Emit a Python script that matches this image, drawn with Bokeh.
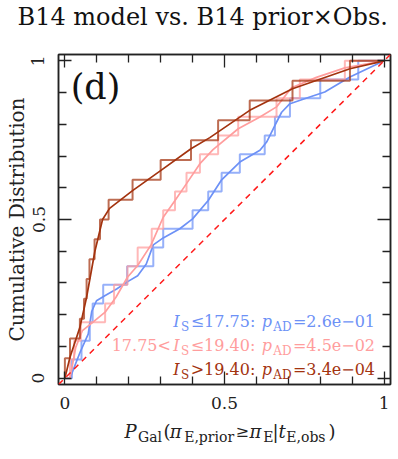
from bokeh.plotting import figure
from bokeh.layouts import column
from bokeh.models import (Range1d, FixedTicker, LinearAxis, Label, Slope,
                          NumeralTickFormatter, CustomJSTickFormatter)
from bokeh.embed import file_html
from bokeh.resources import INLINE

# ---------------- data ----------------
# sample values (positions of the ECDF jumps)
blue_vals = [0.022, 0.052, 0.078, 0.087, 0.120, 0.195, 0.277, 0.308, 0.400,
             0.449, 0.491, 0.548, 0.626, 0.658, 0.705, 0.800, 0.919]
pink_vals = [0.016, 0.029, 0.050, 0.126, 0.154, 0.196, 0.228, 0.272, 0.308,
             0.345, 0.381, 0.423, 0.480, 0.543, 0.663, 0.736, 0.877]
brown_vals = [0.000, 0.016, 0.047, 0.060, 0.068, 0.077, 0.093, 0.110, 0.137,
              0.212, 0.300, 0.395, 0.480, 0.579, 0.713, 0.893]

# smooth (model) curves
blue_sx = [0.016, 0.047, 0.073, 0.084, 0.099, 0.125, 0.162, 0.198, 0.228, 0.255,
           0.277, 0.308, 0.360, 0.400, 0.449, 0.491, 0.548, 0.611, 0.632, 0.658,
           0.679, 0.705, 0.767, 0.814, 0.893, 1.000]
blue_sy = [0.000, 0.080, 0.139, 0.210, 0.244, 0.260, 0.281, 0.305, 0.323, 0.360,
           0.420, 0.442, 0.471, 0.502, 0.560, 0.625, 0.681, 0.718, 0.744, 0.797,
           0.838, 0.865, 0.886, 0.902, 0.949, 1.000]
pink_sx = [0.016, 0.034, 0.055, 0.087, 0.126, 0.160, 0.196, 0.228, 0.270, 0.308,
           0.345, 0.381, 0.423, 0.464, 0.543, 0.611, 0.663, 0.710, 0.788, 0.877, 1.000]
pink_sy = [0.000, 0.097, 0.150, 0.176, 0.208, 0.255, 0.318, 0.355, 0.420, 0.507,
           0.560, 0.613, 0.676, 0.720, 0.786, 0.823, 0.855, 0.915, 0.948, 0.978, 1.000]
brown_sx = [0.000, 0.016, 0.047, 0.068, 0.094, 0.118, 0.140, 0.212, 0.301, 0.395,
            0.454, 0.579, 0.713, 0.893, 1.000]
brown_sy = [0.000, 0.066, 0.160, 0.255, 0.400, 0.500, 0.535, 0.591, 0.655, 0.723,
            0.758, 0.844, 0.912, 0.975, 1.000]

group_cond = ["≤17.75:", "≤19.40:", ">19.40:"]
group_pad = ["=2.6e−01", "=4.5e−02", "=3.4e−04"]

major_ticks = [0, 0.5, 1]
minor_ticks = [0.1, 0.2, 0.3, 0.4, 0.6, 0.7, 0.8, 0.9]

C_BLUE = "#6d91f6"
C_PINK = "#ff9d9d"
C_BROWN = "#a3330f"
C_INK = "#222222"
SERIF = "DejaVu Serif"
W = 398
FL = 58  # frame left (the label strip shares the main frame's left edge)


def ecdf_steps(vals):
    xs = sorted(vals)
    n = len(xs)
    sx, sy = [0.0], [0.0]
    for i, v in enumerate(xs):
        sx += [v, v]
        sy += [i / n, (i + 1) / n]
    sx.append(1.0)
    sy.append(1.0)
    return sx, sy


def put(fig, x, y, text, size, color=C_INK, style="normal", align="center"):
    fig.add_layout(Label(x=x, y=y, x_units="screen", y_units="screen", text=text,
                         text_font=SERIF, text_font_size=size, text_color=color,
                         text_font_style=style, text_align=align,
                         text_baseline="alphabetic"))


# ---------------- main panel ----------------
p = figure(width=W, height=414, x_range=Range1d(-0.02, 1.02),
           y_range=Range1d(-0.02, 1.02), output_backend="svg",
           toolbar_location=None, min_border_left=FL, min_border_right=8,
           min_border_top=54, min_border_bottom=30)
p.xgrid.visible = False
p.ygrid.visible = False
p.outline_line_color = C_INK
p.outline_line_width = 1.5
p.background_fill_color = "white"
p.border_fill_color = "white"

p.title.text = "B14 model vs. B14 prior×Obs."
p.title.text_font = SERIF
p.title.text_font_size = "24px"
p.title.text_font_style = "normal"
p.title.text_color = "#111111"
p.title.align = "left"
p.title.offset = -41
p.title.standoff = 0

ticker = FixedTicker(ticks=major_ticks, minor_ticks=minor_ticks)


def style_axis(ax, labels=True):
    ax.ticker = ticker
    ax.axis_line_color = C_INK
    ax.axis_line_width = 1.5
    ax.major_tick_in = 13
    ax.major_tick_out = 0
    ax.minor_tick_in = 8
    ax.minor_tick_out = 0
    ax.major_tick_line_color = C_INK
    ax.minor_tick_line_color = C_INK
    ax.major_tick_line_width = 1.3
    ax.minor_tick_line_width = 1.3
    if labels:
        ax.formatter = NumeralTickFormatter(format="0.[0]")
        ax.major_label_text_font = SERIF
        ax.major_label_text_font_size = "17px"
        ax.major_label_text_color = C_INK
    else:
        ax.formatter = CustomJSTickFormatter(code="return ''")
        ax.major_label_standoff = 0
        ax.major_label_text_font_size = "1px"


xax = p.xaxis[0]
yax = p.yaxis[0]
style_axis(xax)
style_axis(yax)
xax.major_label_standoff = 12
yax.major_label_standoff = 14
yax.major_label_orientation = "vertical"
yax.axis_label = "Cumulative Distribution"
yax.axis_label_text_font = SERIF
yax.axis_label_text_font_size = "20px"
yax.axis_label_text_font_style = "normal"
yax.axis_label_text_color = C_INK
yax.axis_label_standoff = 1

rax = LinearAxis()
style_axis(rax, labels=False)
p.add_layout(rax, "right")
tax = LinearAxis()
style_axis(tax, labels=False)
# a blank axis label keeps the title clear of the frame
tax.axis_label = " "
tax.axis_label_text_font_size = "1px"
tax.axis_label_standoff = 20
p.add_layout(tax, "above")

# diagonal y = x
p.add_layout(Slope(gradient=1, y_intercept=0, line_color="#ff1a1a",
                   line_width=1.5, line_dash="6 5"))

for vals, sx, sy, col in [(blue_vals, blue_sx, blue_sy, C_BLUE),
                          (pink_vals, pink_sx, pink_sy, C_PINK),
                          (brown_vals, brown_sx, brown_sy, C_BROWN)]:
    ex, ey = ecdf_steps(vals)
    p.line(ex, ey, line_color=col, line_width=2, line_alpha=0.72)
    p.line(sx, sy, line_color=col, line_width=1.7)

# panel tag
put(p, 37, 298, "(d)", "35px", color="#111111")

# in-plot legend texts
rows = [(63.3, 57.8, C_BLUE), (39, 33.5, C_PINK), (15, 9.5, C_BROWN)]
for i, (mb, sb, col) in enumerate(rows):
    if i == 1:
        put(p, 82.8, mb, "17.75<", "16px", color=col)
    put(p, 118, mb, "I", "16px", color=col, style="italic")
    put(p, 126.7, sb, "S", "12px", color=col)
    put(p, 164.5, mb, group_cond[i], "16px", color=col)
    put(p, 208.3, mb, "p", "16px", color=col, style="italic")
    put(p, 224, sb, "AD", "12px", color=col)
    put(p, 275.5, mb, group_pad[i], "16px", color=col)

# ---------------- x-axis label strip ----------------
bot = figure(width=W, height=44, x_range=Range1d(0, 1), y_range=Range1d(0, 1),
             output_backend="svg", toolbar_location=None,
             x_axis_location=None, y_axis_location=None,
             min_border_left=FL, min_border_right=8,
             min_border_top=0, min_border_bottom=0)
bot.outline_line_color = None
bot.grid.visible = False
bot.background_fill_color = "white"
bot.border_fill_color = "white"

MB, SB = 27.5, 21.5
L = "left"
put(bot, 124 - FL, MB, "P", "18px", style="italic", align=L)
put(bot, 137.5 - FL, SB, "Gal", "14px", align=L)
put(bot, 163 - FL, MB, "(", "18px", align=L)
put(bot, 169.3 - FL, MB, "π", "18px", style="italic", align=L)
put(bot, 183.7 - FL, SB, "E,prior", "14px", align=L)
put(bot, 235 - FL, MB, "≥", "16px", align=L)
put(bot, 249 - FL, MB, "π", "18px", style="italic", align=L)
put(bot, 262.8 - FL, SB, "E", "14px", align=L)
put(bot, 272 - FL, MB, "|", "18px", align=L)
put(bot, 278 - FL, MB, "t", "18px", style="italic", align=L)
put(bot, 285.8 - FL, SB, "E,obs", "14px", align=L)
put(bot, 328 - FL, MB, ")", "18px", align=L)

layout = column(p, bot, spacing=0)
open("out.html", "w").write(file_html(layout, INLINE))
